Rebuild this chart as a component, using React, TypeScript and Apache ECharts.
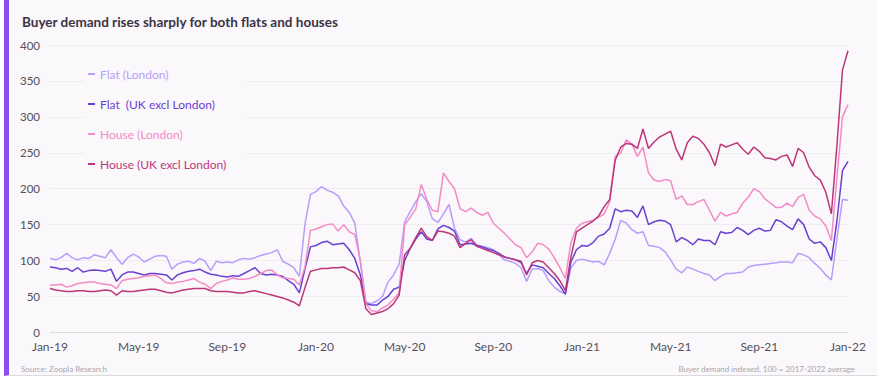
import React, { useEffect, useRef } from "react";
import * as echarts from "echarts";

const monthNames = ["Jan", "Feb", "Mar", "Apr", "May", "Jun", "Jul", "Aug", "Sep", "Oct", "Nov", "Dec"];
const yTicks = [0, 50, 100, 150, 200, 250, 300, 350, 400];

const seriesNames = ["Flat (London)", "Flat  (UK excl London)", "House (London)", "House (UK excl London)"];
const seriesColors = ["#b89dfa", "#6a3fd2", "#f38bc6", "#bb377a"];

// months since Jan-19, every quarter month
const months: number[] = Array.from({ length: 145 }, (_, i) => i / 4);

const flatLondon = [
  103, 101, 104, 110, 104, 101, 104, 103, 108, 106, 104, 115, 104, 95, 104, 109,
  105, 98, 102, 106, 107, 106, 88, 95, 98, 99, 96, 103, 99, 86, 99, 97,
  98, 97, 101, 103, 102, 104, 107, 109, 111, 115, 99, 95, 90, 78, 150, 192,
  196, 203, 198, 195, 190, 176, 167, 152, 98, 42, 40, 44, 50, 70, 80, 95,
  154, 168, 182, 193, 182, 158, 153, 165, 178, 145, 129, 126, 131, 122, 120, 118,
  115, 108, 101, 99, 96, 90, 71, 88, 89, 86, 72, 63, 57, 54, 90, 100,
  102, 100, 98, 99, 94, 110, 130, 156, 152, 143, 138, 140, 121, 120, 118, 112,
  101, 88, 83, 91, 88, 85, 82, 80, 72, 78, 82, 82, 83, 84, 91, 93,
  94, 95, 96, 97, 98, 98, 97, 110, 108, 104, 96, 89, 80, 73, 130, 185,
  184,
];

const flatUK = [
  91, 90, 88, 89, 85, 90, 84, 86, 87, 86, 85, 88, 71, 80, 84, 84,
  82, 80, 82, 82, 81, 80, 73, 80, 83, 85, 86, 88, 84, 81, 80, 78,
  77, 79, 78, 82, 86, 90, 82, 80, 81, 80, 78, 72, 67, 55, 88, 119,
  121, 125, 127, 122, 123, 124, 115, 103, 80, 40, 38, 38, 45, 50, 60, 63,
  100, 117, 130, 140, 130, 128, 144, 149, 146, 141, 122, 123, 124, 121, 119, 116,
  114, 110, 105, 103, 101, 97, 82, 94, 92, 90, 82, 75, 65, 53, 98, 115,
  121, 120, 125, 134, 137, 145, 172, 168, 170, 169, 160, 176, 150, 154, 156, 155,
  150, 126, 132, 128, 122, 130, 128, 128, 122, 140, 138, 139, 146, 142, 136, 142,
  145, 141, 142, 157, 154, 148, 143, 158, 150, 130, 124, 126, 118, 100, 155, 225,
  238,
];

const houseLondon = [
  66, 66, 67, 63, 65, 68, 69, 70, 70, 68, 67, 66, 61, 72, 74, 75,
  76, 78, 79, 80, 75, 69, 68, 70, 71, 73, 75, 70, 67, 61, 68, 71,
  73, 76, 74, 74, 75, 78, 82, 86, 87, 80, 76, 75, 74, 66, 91, 142,
  144, 147, 150, 151, 141, 150, 140, 136, 100, 40, 30, 29, 34, 38, 46, 55,
  150, 160, 172, 206, 185, 170, 168, 222, 210, 200, 172, 168, 173, 167, 163, 167,
  152, 145, 138, 130, 122, 118, 104, 112, 124, 122, 116, 104, 90, 75, 125, 145,
  152, 154, 156, 160, 165, 182, 245, 250, 268, 262, 245, 258, 222, 212, 210, 213,
  211, 185, 190, 178, 178, 182, 185, 170, 155, 167, 162, 165, 167, 180, 188, 200,
  196, 186, 180, 174, 174, 180, 175, 188, 192, 170, 162, 158, 148, 128, 215, 300,
  317,
];

const houseUK = [
  61, 59, 58, 57, 57, 58, 58, 57, 57, 58, 59, 58, 52, 58, 57, 57,
  58, 59, 60, 60, 58, 56, 55, 57, 59, 60, 61, 61, 61, 58, 57, 57,
  57, 56, 55, 55, 57, 58, 56, 54, 52, 50, 48, 45, 42, 37, 62, 85,
  87, 89, 89, 90, 90, 91, 87, 83, 72, 33, 25, 27, 29, 33, 40, 52,
  108, 117, 132, 145, 133, 128, 141, 140, 138, 134, 118, 124, 129, 120, 117, 114,
  111, 108, 105, 103, 101, 99, 80, 97, 100, 98, 90, 82, 72, 58, 105, 140,
  145, 150, 155, 162, 175, 185, 240, 258, 263, 262, 256, 283, 256, 265, 272, 276,
  280, 255, 240, 264, 273, 270, 262, 250, 232, 262, 258, 261, 264, 255, 248, 258,
  252, 243, 242, 240, 245, 247, 231, 256, 250, 230, 218, 212, 195, 165, 260, 365,
  392,
];

const allSeries = [flatLondon, flatUK, houseLondon, houseUK];

const FONT = "Lato, 'Noto Sans', sans-serif";

export default function App() {
  const ref = useRef<HTMLDivElement>(null);

  useEffect(() => {
    if (!ref.current) return;
    const chart = echarts.init(ref.current, null, { renderer: "svg" });
    const option: any = {
      animation: false,
      textStyle: { fontFamily: FONT },
      title: [
        {
          text: "Buyer demand rises sharply for both flats and houses",
          left: 17,
          top: 10,
          textStyle: { fontSize: 13.5, fontWeight: "bold", color: "#3a3346", fontFamily: FONT },
        },
        {
          text: "Source: Zoopla Research",
          left: 16,
          top: 360,
          textStyle: { fontSize: 8, fontWeight: "normal", color: "#a9a6ad", fontFamily: FONT },
        },
        {
          text: "Buyer demand indexed, 100 = 2017-2022 average",
          right: 17,
          top: 360,
          textStyle: { fontSize: 8, fontWeight: "normal", color: "#a9a6ad", fontFamily: FONT },
        },
      ],
      legend: {
        orient: "vertical",
        left: 84,
        top: 64,
        itemGap: 18,
        itemWidth: 7,
        itemHeight: 2,
        icon: "rect",
        backgroundColor: "#faf8fa",
        padding: [4, 20, 4, 4],
        data: seriesNames.map((n, i) => ({
          name: n,
          textStyle: { color: seriesColors[i], fontSize: 12, fontFamily: FONT },
        })),
      },
      grid: { left: 50, right: 29, top: 45, bottom: 48.6, containLabel: false },
      xAxis: {
        type: "value",
        min: 0,
        max: 36,
        interval: 4,
        axisLine: { show: false },
        axisTick: { show: false },
        splitLine: { show: false },
        axisLabel: {
          color: "#555059",
          fontSize: 12,
          margin: 8,
          formatter: (v: number) => {
            const y = 19 + Math.floor(v / 12);
            return monthNames[v % 12] + "-" + y;
          },
        },
      },
      yAxis: {
        type: "value",
        min: yTicks[0],
        max: yTicks[yTicks.length - 1],
        interval: 50,
        axisLine: { show: false },
        axisTick: { show: false },
        axisLabel: { color: "#555059", fontSize: 11.5, margin: 10 },
        splitLine: {
          lineStyle: {
            color: ["#dcdadd", "#efecef", "#efecef", "#efecef", "#efecef", "#efecef", "#efecef", "#efecef", "#efecef"],
            width: 1,
          },
        },
      },
      series: allSeries.map((vals, i) => ({
        name: seriesNames[i],
        type: "line",
        data: vals.map((v, j) => [months[j], v]),
        showSymbol: false,
        symbol: "none",
        lineStyle: { color: seriesColors[i], width: 1.5 },
        itemStyle: { color: seriesColors[i] },
        z: i === 0 ? 2 : 3 + i,
      })),
    };
    chart.setOption(option);
    return () => chart.dispose();
  }, []);

  return (
    <div style={{ position: "fixed", left: 0, top: 0, width: 877, height: 381, background: "#ffffff" }}>
      <div
        style={{
          position: "absolute",
          left: 4,
          top: 0,
          width: 868,
          height: 375,
          background: "#faf8fa",
          borderLeft: "5px solid #8b4cf0",
          borderRight: "1px solid #dddadd",
          borderBottom: "1px solid #dddadd",
        }}
      />
      <div ref={ref} style={{ position: "absolute", left: 0, top: 0, width: 877, height: 381 }} />
    </div>
  );
}
